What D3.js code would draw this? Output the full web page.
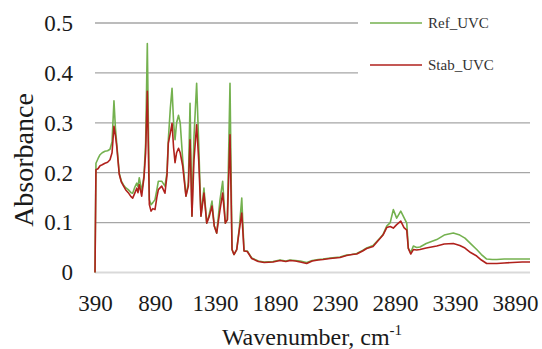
<!DOCTYPE html>
<html>
<head>
<meta charset="utf-8">
<script src="https://cdn.jsdelivr.net/npm/d3@7"></script>
<style>
  body { margin: 0; background: #fff; }
  svg text { font-family: "Liberation Serif", "Times New Roman", "DejaVu Serif", serif !important; }
</style>
</head>
<body>
<div id="chart"></div>
<script>
// FTIR spectra
const wavenumber = [390, 398, 415, 432, 450, 473, 495, 515, 532, 548, 560, 571, 592, 610, 626, 645, 667, 690, 704, 720,
  738, 748, 759, 779, 798, 812, 826, 843, 857, 872, 890, 905, 918, 946, 973, 990, 1001, 1018, 1032, 1045,
  1057, 1070, 1086, 1100, 1121, 1148, 1168, 1182, 1198, 1215, 1237, 1254, 1273, 1298, 1321, 1343, 1365, 1384, 1404, 1432,
  1454, 1476, 1493, 1515, 1532, 1548, 1571, 1593, 1613, 1632, 1659, 1696, 1751, 1800, 1873, 1932, 1980, 2015, 2060, 2100,
  2154, 2200, 2250, 2290, 2350, 2432, 2487, 2530, 2571, 2620, 2654, 2707, 2765, 2790, 2821, 2850, 2876, 2904, 2938, 2965,
  2988, 3001, 3021, 3043, 3070, 3098, 3150, 3238, 3300, 3376, 3430, 3473, 3520, 3571, 3610, 3654, 3700, 3738, 3800, 3870,
  3950, 4015]

const refUVC = [0, 0.219, 0.228, 0.236, 0.240, 0.243, 0.244, 0.247, 0.262, 0.344, 0.290, 0.259, 0.199, 0.183, 0.176, 0.170, 0.166, 0.160, 0.159, 0.170,
  0.179, 0.172, 0.190, 0.163, 0.193, 0.260, 0.459, 0.146, 0.136, 0.140, 0.146, 0.165, 0.183, 0.183, 0.173, 0.200, 0.266, 0.330, 0.369, 0.300,
  0.266, 0.300, 0.315, 0.300, 0.226, 0.153, 0.180, 0.339, 0.113, 0.273, 0.379, 0.260, 0.113, 0.169, 0.099, 0.118, 0.143, 0.093, 0.079, 0.146,
  0.183, 0.099, 0.106, 0.379, 0.046, 0.036, 0.046, 0.090, 0.149, 0.043, 0.043, 0.029, 0.023, 0.021, 0.022, 0.025, 0.023, 0.025, 0.024, 0.023,
  0.020, 0.024, 0.026, 0.027, 0.029, 0.031, 0.035, 0.036, 0.038, 0.044, 0.049, 0.054, 0.069, 0.076, 0.093, 0.100, 0.126, 0.109, 0.123, 0.110,
  0.099, 0.049, 0.040, 0.053, 0.050, 0.051, 0.058, 0.066, 0.075, 0.079, 0.075, 0.069, 0.058, 0.046, 0.036, 0.027, 0.026, 0.026, 0.027, 0.027,
  0.027, 0.027]

const stabUVC = [0, 0.206, 0.208, 0.214, 0.216, 0.219, 0.221, 0.226, 0.240, 0.293, 0.275, 0.253, 0.197, 0.181, 0.174, 0.166, 0.160, 0.152, 0.149, 0.158,
  0.169, 0.160, 0.176, 0.153, 0.190, 0.240, 0.363, 0.136, 0.123, 0.128, 0.126, 0.150, 0.166, 0.173, 0.159, 0.195, 0.259, 0.280, 0.299, 0.250,
  0.220, 0.240, 0.249, 0.240, 0.213, 0.153, 0.173, 0.266, 0.113, 0.226, 0.296, 0.226, 0.113, 0.159, 0.099, 0.113, 0.133, 0.093, 0.079, 0.126,
  0.159, 0.099, 0.106, 0.276, 0.046, 0.036, 0.046, 0.086, 0.119, 0.043, 0.042, 0.028, 0.022, 0.020, 0.021, 0.024, 0.022, 0.024, 0.023, 0.021,
  0.018, 0.023, 0.025, 0.026, 0.028, 0.030, 0.034, 0.036, 0.037, 0.043, 0.048, 0.052, 0.068, 0.075, 0.090, 0.092, 0.089, 0.096, 0.103, 0.090,
  0.085, 0.048, 0.037, 0.046, 0.045, 0.046, 0.049, 0.053, 0.057, 0.058, 0.054, 0.049, 0.040, 0.033, 0.025, 0.018, 0.018, 0.018, 0.019, 0.020,
  0.021, 0.021]

const xTicks = [390, 890, 1390, 1890, 2390, 2890, 3390, 3890]
const yTicks = [0, 0.1, 0.2, 0.3, 0.4, 0.5]
const seriesNames = ['Ref_UVC', 'Stab_UVC']

const width = 542,
  height = 349
const serif = '"Liberation Serif", "Times New Roman", "DejaVu Serif", serif'

const svg = d3.select('#chart')
  .append('svg')
  .attr('width', width)
  .attr('height', height)
  .style('font-family', serif)

const x = d3.scaleLinear()
  .domain([390, 4015])
  .range([95, 530])

const y = d3.scaleLinear()
  .domain([0, 0.5])
  .range([272.5, 23])

// gridlines (0 line is lighter)
svg.append('g')
  .selectAll('line')
  .data(yTicks)
  .enter()
  .append('line')
  .attr('x1', x(390))
  .attr('x2', x(4015))
  .attr('y1', d => y(d))
  .attr('y2', d => y(d))
  .attr('stroke', d => d === 0 ? '#d9d9d9' : '#a6a6a6')
  .attr('stroke-width', d => d === 0 ? 2 : 1.3)

// legend box hides the grid behind it
svg.append('rect')
  .attr('x', 358)
  .attr('y', 6)
  .attr('width', 184)
  .attr('height', 80)
  .attr('fill', '#fff')

const colors = ['#74b14f', '#b0211c']
const lineGen = d3.line()
  .x((d, i) => x(wavenumber[i]))
  .y(d => y(d))

;[refUVC, stabUVC].forEach((vals, k) => {
  svg.append('path')
    .datum(vals)
    .attr('d', lineGen)
    .attr('fill', 'none')
    .attr('stroke', colors[k])
    .attr('stroke-width', 1.6)
    .attr('stroke-linejoin', 'round')
})

// legend
const legend = svg.append('g')
  .selectAll('g')
  .data(seriesNames)
  .enter()
  .append('g')
  .attr('transform', (d, i) => `translate(370, ${23 + i * 42})`)
legend.append('line')
  .attr('x1', 0).attr('x2', 52)
  .attr('stroke', (d, i) => colors[i])
  .attr('stroke-width', 1.6)
legend.append('text')
  .attr('x', 58)
  .attr('dy', '0.33em')
  .attr('font-size', 15)
  .attr('fill', '#333')
  .text(d => d)

// axes, labels only
const axisY = d3.axisLeft(y)
  .tickValues(yTicks)
  .tickSize(0)
  .tickPadding(22)
  .tickFormat(d => d === 0 ? '0' : d3.format('.1f')(d))
const axisX = d3.axisBottom(x)
  .tickValues(xTicks)
  .tickSize(0)
  .tickPadding(22)
  .tickFormat(d3.format('d'))

const gy = svg.append('g')
  .attr('transform', 'translate(95, 0)')
  .call(axisY)
const gx = svg.append('g')
  .attr('transform', 'translate(0, 272.5)')
  .call(axisX)
;[gx, gy].forEach(g => {
  g.attr('font-family', null)
  g.select('.domain').remove()
  g.selectAll('text')
    .style('font-family', serif)
    .attr('font-size', 23)
    .attr('fill', '#1a1a1a')
})

// axis titles
svg.append('text')
  .attr('transform', 'translate(33, 160) rotate(-90)')
  .attr('text-anchor', 'middle')
  .attr('font-size', 28)
  .attr('fill', '#1a1a1a')
  .text('Absorbance')

const xt = svg.append('text')
  .attr('x', 312)
  .attr('y', 345)
  .attr('text-anchor', 'middle')
  .attr('font-size', 24)
  .attr('fill', '#1a1a1a')
xt.append('tspan').text('Wavenumber, cm')
xt.append('tspan')
  .attr('dy', -10)
  .attr('font-size', 15)
  .text('-1')
</script>
</body>
</html>
